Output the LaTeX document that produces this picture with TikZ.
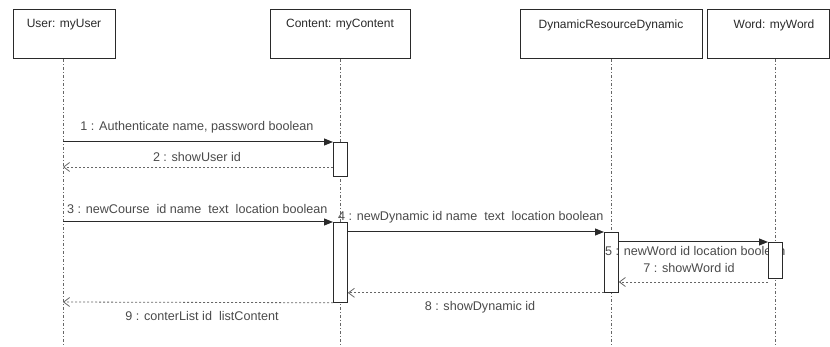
\documentclass[tikz,border=0pt]{standalone}
\usepackage{fontspec}
\setmainfont{Liberation Sans}
\usetikzlibrary{arrows.meta}
\definecolor{ink}{HTML}{2A2A2A}
\definecolor{lgray}{HTML}{666666}
\begin{document}
\begin{tikzpicture}[x=1pt,y=-1pt,
  objbox/.style={draw=ink, line width=0.9pt, anchor=north west, inner sep=0pt, minimum height=49pt, fill=white},
  objtext/.style={font=\fontsize{12}{14}\selectfont, text=ink, inner sep=0pt},
  msgtext/.style={font=\fontsize{12.6}{14}\selectfont, text=ink!85, inner sep=0pt},
  lifeline/.style={draw=lgray, line width=0.8pt, dash pattern=on 3pt off 2pt on 1pt off 2pt},
  actbox/.style={draw=ink, line width=0.8pt, fill=white, anchor=north west, inner sep=0pt, minimum width=14pt},
  callmsg/.style={draw=ink, line width=1pt, -{Triangle[length=9pt,width=7pt]}},
  retmsg/.style={draw=lgray, line width=0.8pt, dash pattern=on 2pt off 2pt, -{Straight Barb[length=6pt,width=9pt]}}
]
\useasboundingbox (0,0) rectangle (830,347);
% object boxes
\node[objbox, minimum width=102pt] (ub) at (13,9) {};
\node[objbox, minimum width=140pt] (cb) at (270,9) {};
\node[objbox, minimum width=182pt] (db) at (520,9) {};
\node[objbox, minimum width=122pt] (wb) at (707,9) {};
\node[objtext] (ut) at (64,25) {User: myUser};
\node[objtext] (ct) at (340,25) {Content: myContent};
\node[objtext] (dt) at (611,25) {DynamicResourceDynamic};
\node[objtext] (wt) at (774,25) {Word: myWord};
% lifelines
\coordinate (uend) at (63,347);
\coordinate (cend) at (340,347);
\coordinate (dend) at (611,347);
\coordinate (wend) at (775,347);
\draw[lifeline] (ub.south -| uend) -- (uend);
\draw[lifeline] (cb.south -| cend) -- (cend);
\draw[lifeline] (db.south -| dend) -- (dend);
\draw[lifeline] (wb.south -| wend) -- (wend);
% activations
\node[actbox, minimum height=34pt] (a1) at (333,142) {};
\node[actbox, minimum height=80pt] (a2) at (333,222) {};
\node[actbox, minimum height=60pt] (a3) at (604,232) {};
% messages
\coordinate (m1s) at (63,142);
\draw[callmsg] (m1s) -- (a1.north west);
\node[msgtext] (l1) at (197,127) {1 : Authenticate name, password boolean};
\coordinate (m2e) at (63,167);
\draw[retmsg] (a1.west |- m2e) -- (m2e);
\node[msgtext] (l2) at (197,157) {2 : showUser id};
\coordinate (m3s) at (63,222);
\draw[callmsg] (m3s) -- (a2.north west);
\node[msgtext, anchor=west] (l3) at (67,209) {3 : newCourse\ \ id name\ \ text\ \ location boolean};
\draw[callmsg] (a2.east |- a3.north west) -- (a3.north west);
\node[msgtext, anchor=west] (l4) at (338,217) {4 : newDynamic id name\ \ text\ \ location boolean};
\node[msgtext, anchor=west] (l5) at (605,251) {5 : newWord id location boolean};
\node[actbox, minimum height=36pt] (a4) at (768,242) {};
\draw[callmsg] (a3.east |- a4.north west) -- (a4.north west);
\coordinate (m7y) at (0,282);
\draw[retmsg] (a4.west |- m7y) -- (a3.east |- m7y);
\node[msgtext] (l7) at (689,268) {7 : showWord id};
\draw[retmsg] (a3.south west) -- (a2.east |- a3.south west);
\node[msgtext] (l8) at (480,307) {8 : showDynamic id};
\coordinate (m9e) at (63,302);
\draw[retmsg] (a2.south west) -- (m9e);
\node[msgtext] (l9) at (202,316) {9 : conterList id\ \ listContent};
\end{tikzpicture}
\end{document}
